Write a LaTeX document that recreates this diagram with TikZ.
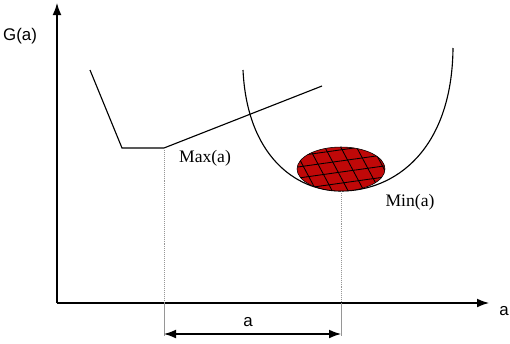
\documentclass[tikz,border=0pt]{standalone}
\usepackage{fontspec}
\setmainfont{Liberation Serif}
\newfontfamily\axisfont{Liberation Sans}
\usetikzlibrary{positioning,arrows.meta,calc}
\definecolor{minred}{RGB}{192,8,8}
\definecolor{guidegray}{RGB}{150,150,150}

\begin{document}
\begin{tikzpicture}[x=0.025cm, y=-0.025cm, every node/.style={font=\fontsize{12.5}{14}\selectfont}]
  \tikzset{
    axisline/.style={thick, -{Latex[length=3mm, width=2.2mm]}},
    curveline/.style={thick, line join=miter},
    guide/.style={guidegray, densely dotted, thin},
    tick/.style={guidegray, thin},
    hatchline/.style={black, semithick},
    sanslabel/.style={font=\axisfont\fontsize{12}{14}\selectfont}
  }
  \useasboundingbox (0,0) rectangle (510,343);

  % Axes
  \coordinate (O) at (57,303);
  \coordinate (Ytop) at (57,3);
  \coordinate (Xend) at (489,303);
  \draw[axisline] (O) -- (Ytop);
  \draw[axisline] (O) -- (Xend);
  \node[sanslabel] (Glab) at (20,36) {G(a)};
  \node[sanslabel] (Xlab) at (504,311) {a};

  % Max curve (piecewise linear)
  \coordinate (M1) at (90,70);
  \coordinate (M2) at (122,148);
  \coordinate (Mx) at (164,148);
  \coordinate (M3) at (322,86);
  \draw[curveline] (M1) -- (M2) -- (Mx) -- (M3);
  \node (Maxlab) at (205,158) {Max(a)};

  % Min curve (U shape)
  \coordinate (U1) at (243,70);
  \coordinate (Mn) at (341,191);
  \coordinate (U2) at (453,48);
  \draw[curveline] (U1) .. controls (247,155) and (295,191) .. (Mn)
                        .. controls (395,191) and (452,150) .. (U2);
  \node (Minlab) at (410,202) {Min(a)};

  % Hatched ellipse at the minimum
  \coordinate (E) at (341,169);
  \fill[minred] (E) ellipse [x radius=44, y radius=22];
  \begin{scope}
    \clip (E) ellipse [x radius=44, y radius=22];
    \begin{scope}[shift={(E)}, rotate=8]
      \foreach \i in {-5,...,5}
        \draw[hatchline] (-70,\i*11+3) -- (70,\i*11+3);
    \end{scope}
    \begin{scope}[shift={(E)}, rotate=-62]
      \foreach \i in {-6,...,6}
        \draw[hatchline] (-70,\i*14+4) -- (70,\i*14+4);
    \end{scope}
  \end{scope}
  \draw[thin] (E) ellipse [x radius=44, y radius=22];

  % Guides down to the axis
  \coordinate (Mxa) at (164,303);
  \coordinate (Mna) at (341,303);
  \coordinate (Mxb) at (164,336);
  \coordinate (Mnb) at (341,336);
  \draw[guide] (Mx) -- (Mxa);
  \draw[guide] (Mn) -- (Mna);
  \draw[tick] (Mxa) -- (Mxb);
  \draw[tick] (Mna) -- (Mnb);

  % Interval arrow
  \coordinate (D1) at (164,334);
  \coordinate (D2) at (341,334);
  \draw[thick, {Latex[length=3mm, width=2.2mm]}-{Latex[length=3mm, width=2.2mm]}] (D1) -- (D2);
  \node[sanslabel] (Dlab) at (248,322) {a};
\end{tikzpicture}
\end{document}
